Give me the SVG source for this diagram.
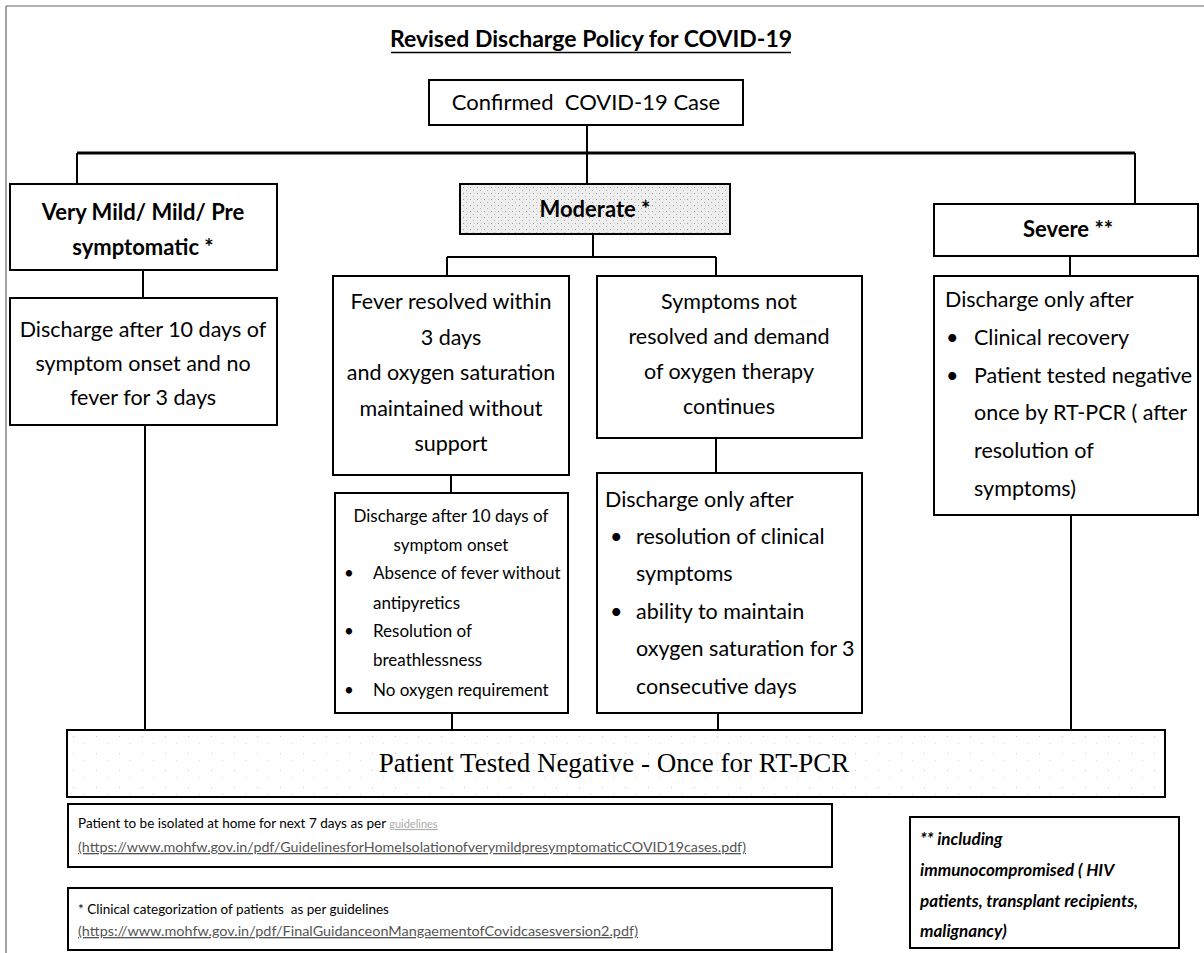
<svg xmlns="http://www.w3.org/2000/svg" width="1204" height="953" viewBox="0 0 1204 953">
<defs>
<pattern id="stip" width="7" height="6" patternUnits="userSpaceOnUse"><rect width="7" height="6" fill="#eeeeee"/><rect x="1" y="1" width="1" height="1" fill="#9a9a9a"/><rect x="4" y="4" width="1" height="1" fill="#b0b0b0"/><rect x="5" y="1" width="1" height="1" fill="#d0d0d0"/></pattern>
<pattern id="speck" width="23" height="17" patternUnits="userSpaceOnUse"><rect width="23" height="17" fill="#ffffff"/><rect x="4" y="5" width="1" height="1" fill="#c8c8c8"/><rect x="15" y="12" width="1" height="1" fill="#d4d4d4"/></pattern>
<style>
.box{fill:#fff;stroke:#000;stroke-width:2}
.ln{stroke:#000;stroke-width:2;fill:none}
.t{font-family:Lato,"Liberation Sans",sans-serif;fill:#000;font-size:21.5px}
.c{text-anchor:middle}
.b{font-weight:bold}
.s{font-size:17px}
.n{font-size:13.5px}
.u{font-size:13px;fill:#555;text-decoration:underline}
.it{font-style:italic;font-weight:bold;font-size:17px}
.serif{font-family:"Liberation Serif","Times New Roman",serif;font-size:27px;text-anchor:middle}
</style>
</defs>
<rect width="1204" height="953" fill="#fff"/>
<g id="frame" stroke="#666" stroke-width="1.2" fill="none">
<line x1="6" y1="6" x2="1204" y2="6"/>
<line x1="6" y1="6" x2="6" y2="953"/>
</g>
<g id="title">
<text class="t b c" x="591" y="47" style="font-size:23px">Revised Discharge Policy for COVID-19</text>
<line x1="391" y1="52.5" x2="791" y2="52.5" stroke="#000" stroke-width="1.6"/>
</g>
<g id="connectors">
<line class="ln" x1="587" y1="125" x2="587" y2="184"/>
<line class="ln" x1="77" y1="153" x2="1135" y2="153" style="stroke-width:3"/>
<line class="ln" x1="77" y1="153" x2="77" y2="184"/>
<line class="ln" x1="1135" y1="153" x2="1135" y2="204"/>
<line class="ln" x1="143" y1="270" x2="143" y2="298"/>
<line class="ln" x1="145" y1="425" x2="145" y2="730"/>
<line class="ln" x1="593" y1="234" x2="593" y2="257"/>
<line class="ln" x1="447" y1="257" x2="716" y2="257"/>
<line class="ln" x1="447" y1="257" x2="447" y2="276"/>
<line class="ln" x1="716" y1="257" x2="716" y2="276"/>
<line class="ln" x1="451" y1="475" x2="451" y2="493"/>
<line class="ln" x1="716" y1="438" x2="716" y2="473"/>
<line class="ln" x1="452" y1="713" x2="452" y2="730"/>
<line class="ln" x1="718" y1="713" x2="718" y2="730"/>
<line class="ln" x1="1070" y1="256" x2="1070" y2="276"/>
<line class="ln" x1="1071" y1="515" x2="1071" y2="730"/>
</g>
<g id="confirmed">
<rect class="box" x="429" y="80" width="314" height="45"/>
<text class="t c" x="586" y="110" style="font-size:22px;white-space:pre" xml:space="preserve">Confirmed  COVID-19 Case</text>
</g>
<g id="very-mild">
<rect class="box" x="10" y="184" width="267" height="86"/>
<text class="t b c" x="143" y="220" style="font-size:22px">Very Mild/ Mild/ Pre</text>
<text class="t b c" x="143" y="255" style="font-size:22px">symptomatic *</text>
</g>
<g id="mild-discharge">
<rect class="box" x="10" y="298" width="267" height="127"/>
<text class="t c" x="143" y="337">Discharge after 10 days of</text>
<text class="t c" x="143" y="371">symptom onset and no</text>
<text class="t c" x="143" y="405">fever for 3 days</text>
</g>
<g id="moderate">
<rect class="box" x="460" y="184" width="270" height="50" style="fill:url(#stip)"/>
<text class="t b c" x="595" y="217" style="font-size:22px">Moderate *</text>
</g>
<g id="fever-resolved">
<rect class="box" x="333" y="276" width="236" height="199"/>
<text class="t c" x="451" y="309">Fever resolved within</text>
<text class="t c" x="451" y="345">3 days</text>
<text class="t c" x="451" y="380">and oxygen saturation</text>
<text class="t c" x="451" y="416">maintained without</text>
<text class="t c" x="451" y="451">support</text>
</g>
<g id="symptoms-not-resolved">
<rect class="box" x="597" y="276" width="265" height="162"/>
<text class="t c" x="729" y="309">Symptoms not</text>
<text class="t c" x="729" y="344">resolved and demand</text>
<text class="t c" x="729" y="379">of oxygen therapy</text>
<text class="t c" x="729" y="414">continues</text>
</g>
<g id="moderate-discharge">
<rect class="box" x="335" y="493" width="233" height="220"/>
<text class="t s c" x="451" y="522">Discharge after 10 days of</text>
<text class="t s c" x="451" y="551">symptom onset</text>
<text class="t s" x="344" y="579">•</text>
<text class="t s" x="373" y="579">Absence of fever without</text>
<text class="t s" x="373" y="609">antipyretics</text>
<text class="t s" x="344" y="637">•</text>
<text class="t s" x="373" y="637">Resolution of</text>
<text class="t s" x="373" y="666">breathlessness</text>
<text class="t s" x="344" y="696">•</text>
<text class="t s" x="373" y="696">No oxygen requirement</text>
</g>
<g id="oxygen-discharge">
<rect class="box" x="597" y="473" width="265" height="240"/>
<text class="t" x="605" y="507">Discharge only after</text>
<text class="t" x="610" y="544">•</text>
<text class="t" x="636" y="544">resolution of clinical</text>
<text class="t" x="636" y="581">symptoms</text>
<text class="t" x="610" y="619">•</text>
<text class="t" x="636" y="619">ability to maintain</text>
<text class="t" x="636" y="656">oxygen saturation for 3</text>
<text class="t" x="636" y="694">consecutive days</text>
</g>
<g id="severe">
<rect class="box" x="934" y="204" width="264" height="52"/>
<text class="t b c" x="1068" y="237" style="font-size:22px">Severe **</text>
</g>
<g id="severe-discharge">
<rect class="box" x="934" y="276" width="264" height="239"/>
<text class="t" x="945" y="307">Discharge only after</text>
<text class="t" x="946" y="345">•</text>
<text class="t" x="974" y="345">Clinical recovery</text>
<text class="t" x="946" y="383">•</text>
<text class="t" x="974" y="383">Patient tested negative</text>
<text class="t" x="974" y="420">once by RT-PCR ( after</text>
<text class="t" x="974" y="458">resolution of</text>
<text class="t" x="974" y="496">symptoms)</text>
</g>
<g id="tested-negative">
<rect class="box" x="67" y="730" width="1098" height="67" style="fill:url(#speck)"/>
<text class="serif" x="614" y="772">Patient Tested Negative - Once for RT-PCR</text>
</g>
<g id="note-isolation">
<rect class="box" x="68" y="804" width="764" height="63"/>
<text class="t n" x="78" y="828">Patient to be isolated at home for next 7 days as per <tspan fill="#aaa" font-size="11" text-decoration="underline">guidelines</tspan></text>
<text class="t u" x="78" y="852" textLength="668" lengthAdjust="spacingAndGlyphs">(https://www.mohfw.gov.in/pdf/GuidelinesforHomeIsolationofverymildpresymptomaticCOVID19cases.pdf)</text>
</g>
<g id="note-categorization">
<rect class="box" x="68" y="888" width="764" height="62"/>
<text class="t n" x="78" y="914" style="white-space:pre" xml:space="preserve">* Clinical categorization of patients  as per guidelines</text>
<text class="t u" x="78" y="936" textLength="560" lengthAdjust="spacingAndGlyphs">(https://www.mohfw.gov.in/pdf/FinalGuidanceonMangaementofCovidcasesversion2.pdf)</text>
</g>
<g id="note-severe">
<rect class="box" x="910" y="817" width="269" height="131"/>
<text class="t it" x="920" y="845">** including</text>
<text class="t it" x="920" y="876">immunocompromised ( HIV</text>
<text class="t it" x="920" y="907">patients, transplant recipients,</text>
<text class="t it" x="920" y="937">malignancy)</text>
</g>
</svg>
